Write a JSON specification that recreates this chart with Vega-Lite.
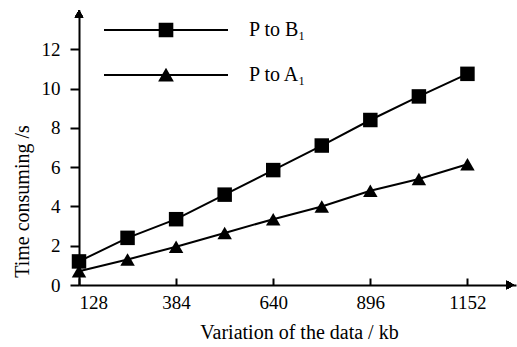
{
  "$schema": "https://vega.github.io/schema/vega-lite/v6.json",
  "autosize": {"type": "none"},
  "padding": {"left": 79, "top": 10, "right": 1, "bottom": 62},
  "width": 437,
  "height": 275,
  "background": "white",
  "config": {
    "view": {"stroke": null},
    "font": "Liberation Serif",
    "axis": {"grid": false, "domainColor": "black", "domainWidth": 2, "tickColor": "black", "tickWidth": 2, "labelColor": "black", "titleColor": "black", "labelFont": "Liberation Serif", "titleFont": "Liberation Serif", "labelFontSize": 19, "titleFontSize": 20, "titleFontWeight": "normal"}
  },
  "data": {"values": [
    {"size": 128, "time": 1.2, "series": "P to B₁"},
    {"size": 256, "time": 2.4, "series": "P to B₁"},
    {"size": 384, "time": 3.35, "series": "P to B₁"},
    {"size": 512, "time": 4.6, "series": "P to B₁"},
    {"size": 640, "time": 5.85, "series": "P to B₁"},
    {"size": 768, "time": 7.1, "series": "P to B₁"},
    {"size": 896, "time": 8.4, "series": "P to B₁"},
    {"size": 1024, "time": 9.6, "series": "P to B₁"},
    {"size": 1152, "time": 10.75, "series": "P to B₁"},
    {"size": 128, "time": 0.7, "series": "P to A₁"},
    {"size": 256, "time": 1.3, "series": "P to A₁"},
    {"size": 384, "time": 1.95, "series": "P to A₁"},
    {"size": 512, "time": 2.65, "series": "P to A₁"},
    {"size": 640, "time": 3.35, "series": "P to A₁"},
    {"size": 768, "time": 4.0, "series": "P to A₁"},
    {"size": 896, "time": 4.8, "series": "P to A₁"},
    {"size": 1024, "time": 5.4, "series": "P to A₁"},
    {"size": 1152, "time": 6.15, "series": "P to A₁"}
  ]},
  "resolve": {"scale": {"shape": "independent"}},
  "layer": [
    {
      "mark": {"type": "line", "color": "black", "strokeWidth": 2},
      "encoding": {
        "x": {"field": "size", "type": "quantitative", "scale": {"domain": [128, 1280], "nice": false, "zero": false},
              "axis": {"values": [128, 384, 640, 896, 1152], "format": "d", "tickSize": -7, "labelPadding": 15, "title": "Variation of the data / kb", "titleX": 220, "titleY": 47, "titleBaseline": "middle", "titleAnchor": null}},
        "y": {"field": "time", "type": "quantitative", "scale": {"domain": [0, 14], "nice": false},
              "axis": {"values": [0, 2, 4, 6, 8, 10, 12], "format": "d", "tickSize": 9, "labelPadding": 10, "title": "Time consuming /s", "titleX": -57, "titleY": 191, "titleAngle": 270, "titleAlign": "center", "titleBaseline": "middle"}},
        "detail": {"field": "series"}
      }
    },
    {
      "mark": {"type": "point", "filled": true, "color": "black", "opacity": 1, "size": 210},
      "encoding": {
        "x": {"field": "size", "type": "quantitative"},
        "y": {"field": "time", "type": "quantitative"},
        "shape": {"field": "series", "type": "nominal", "scale": {"domain": ["P to B₁", "P to A₁"], "range": ["square", "triangle-up"]}, "legend": null}
      }
    },
    {
      "transform": [{"filter": "false"}],
      "mark": {"type": "point", "filled": true, "color": "black", "opacity": 1},
      "encoding": {
        "x": {"field": "size", "type": "quantitative"},
        "y": {"field": "time", "type": "quantitative"},
        "shape": {"field": "series", "type": "nominal",
          "scale": {"domain": ["P to B₁", "P to A₁"], "range": ["M-1,-0.017L1,-0.017L1,0.017L-1,0.017ZM-0.118,-0.118L0.118,-0.118L0.118,0.118L-0.118,0.118Z", "M-1,-0.017L1,-0.017L1,0.017L-1,0.017ZM0,-0.115L0.127,0.105L-0.127,0.105Z"]},
          "legend": {"title": null, "orient": "none", "legendX": 24, "legendY": 10, "padding": 0, "symbolSize": 15376, "clipHeight": 20, "rowPadding": 25, "labelOffset": 20, "labelFont": "Liberation Serif", "labelFontSize": 20, "labelColor": "black", "symbolFillColor": "black", "symbolOpacity": 1}
        }
      }
    },
    {
      "mark": {"type": "point", "filled": true, "color": "black", "opacity": 1, "shape": "triangle-up", "size": 70},
      "encoding": {"x": {"datum": 128}, "y": {"datum": 13.8}}
    },
    {
      "mark": {"type": "point", "filled": true, "color": "black", "opacity": 1, "shape": "triangle-right", "size": 70},
      "encoding": {"x": {"datum": 1265}, "y": {"datum": 0}}
    }
  ]
}
